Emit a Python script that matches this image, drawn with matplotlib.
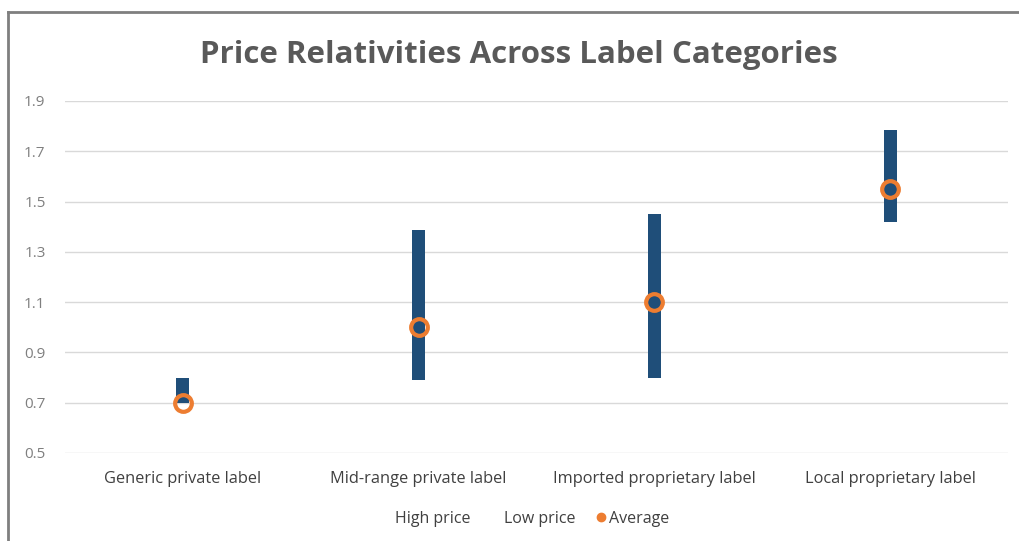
import matplotlib
matplotlib.use("Agg")
import matplotlib.pyplot as plt
from matplotlib.lines import Line2D
import numpy as np

categories = ["Generic private label", "Mid-range private label",
              "Imported proprietary label", "Local proprietary label"]
high_price = [0.80, 1.385, 1.45, 1.785]
low_price = [0.70, 0.79, 0.80, 1.42]
average = [0.70, 1.00, 1.10, 1.55]
y_ticks = [0.5, 0.7, 0.9, 1.1, 1.3, 1.5, 1.7, 1.9]

plt.rcParams["font.family"] = ["Open Sans", "DejaVu Sans"]

fig = plt.figure(figsize=(10.2, 5.41), dpi=100)
ax = fig.add_axes([65 / 1020, 1 - 453 / 541, (1008 - 65) / 1020, (453 - 101) / 541])

x = np.arange(len(categories))
hi = np.array(high_price)
lo = np.array(low_price)

ax.bar(x, hi - lo, bottom=lo, width=0.055, color="#1F4E79", zorder=3)
ax.plot(x, average, linestyle="none", marker="o", markersize=12,
        markerfacecolor="none", markeredgecolor="#ED7D31",
        markeredgewidth=3, zorder=4)

ax.set_xlim(-0.5, len(categories) - 0.5)
ax.set_ylim(0.5, 1.9)
ax.set_yticks(y_ticks)
ax.set_yticklabels([f"{v:.1f}" for v in y_ticks])
ax.set_xticks(x)
ax.set_xticklabels(categories)
ax.tick_params(axis="y", length=0, pad=14, labelsize=11, labelcolor="#7F7F7F")
ax.tick_params(axis="x", length=0, pad=13, labelsize=11.8, labelcolor="#404040")
ax.grid(axis="y", color="#D9D9D9", linewidth=1, zorder=0)
for s in ax.spines.values():
    s.set_visible(False)

fig.text(0.509, 1 - 55 / 541, "Price Relativities Across Label Categories",
         ha="center", va="center", fontsize=22.5, fontweight="bold",
         color="#595959")

handles = [
    Line2D([], [], linestyle="none"),
    Line2D([], [], linestyle="none"),
    Line2D([], [], linestyle="none", marker="o", markersize=6,
           color="#ED7D31"),
]
fig.legend(handles, ["High price", "Low price", "Average"],
           loc="center", bbox_to_anchor=(0.515, 1 - 519 / 541), ncol=3,
           frameon=False, fontsize=11.5, handlelength=0.6, handletextpad=0.2,
           columnspacing=1.3, labelcolor="#404040")

# chart frame
fig.add_artist(Line2D([8 / 1020, 8 / 1020], [0, 1 - 12 / 541],
                      color="#7F7F7F", linewidth=2))
fig.add_artist(Line2D([8 / 1020, 1], [1 - 12 / 541, 1 - 12 / 541],
                      color="#7F7F7F", linewidth=2))

fig.savefig("out.png", dpi=100)
